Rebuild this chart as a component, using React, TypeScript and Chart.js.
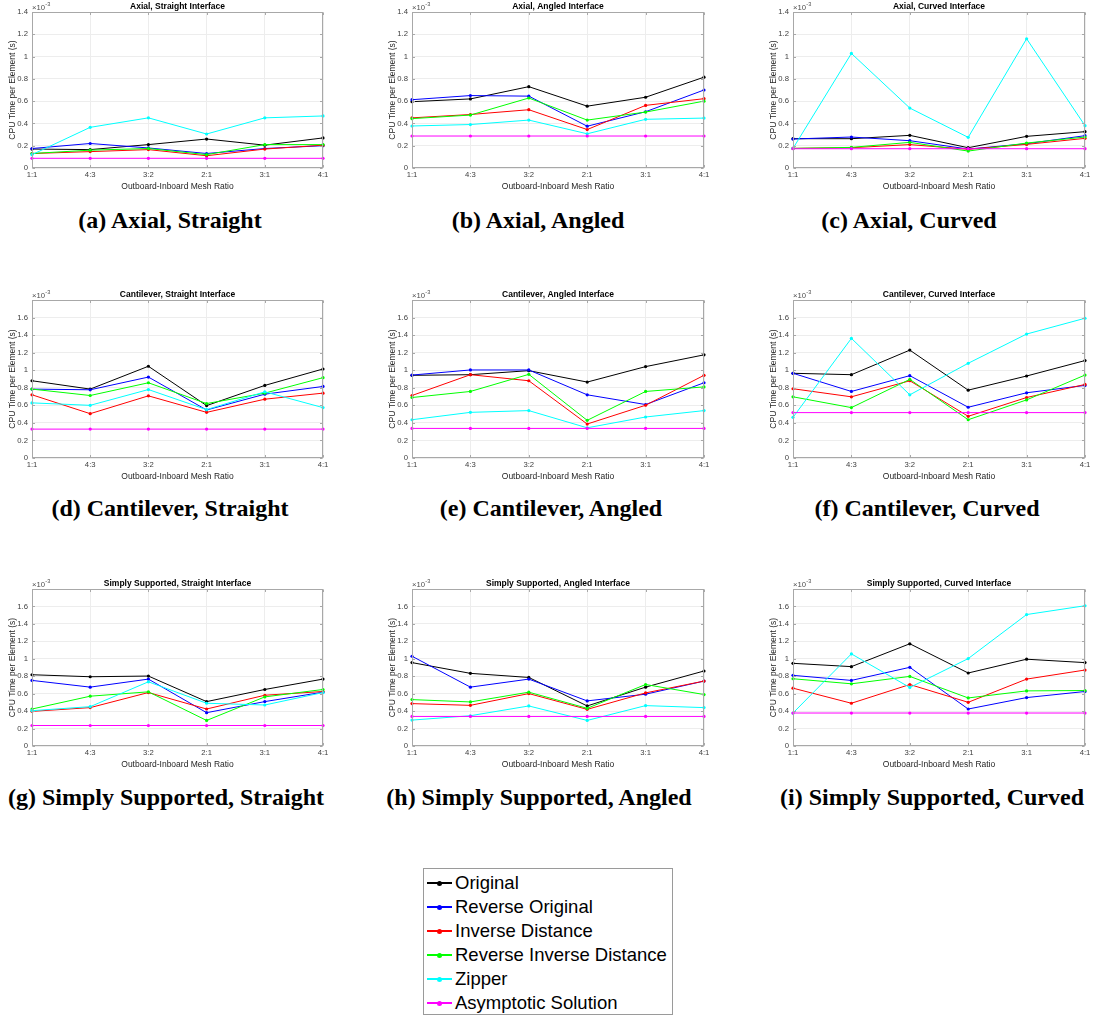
import React, { useEffect, useRef } from 'react';
import { Chart, registerables } from 'chart.js';
Chart.register(...registerables);

const FONT = '"Liberation Sans", Arial, Helvetica, sans-serif';
const SERIF = '"Liberation Serif", "Times New Roman", Times, serif';

const ratioLabels = ['1:1', '4:3', '3:2', '2:1', '3:1', '4:1'];
const methodNames = ['Original', 'Reverse Original', 'Inverse Distance', 'Reverse Inverse Distance', 'Zipper', 'Asymptotic Solution'];
const methodColors = ['#000000', '#0000ff', '#ff0000', '#00ff00', '#00ffff', '#ff00ff'];

// values in units of 1e-3 s; rows follow methodNames order
const axialStraight = [
  [0.17, 0.165, 0.21, 0.26, 0.205, 0.27],
  [0.175, 0.22, 0.18, 0.13, 0.175, 0.2],
  [0.13, 0.147, 0.165, 0.11, 0.17, 0.205],
  [0.13, 0.16, 0.175, 0.12, 0.21, 0.21],
  [0.12, 0.365, 0.45, 0.305, 0.45, 0.467],
  [0.087, 0.087, 0.087, 0.087, 0.087, 0.087],
];
const axialAngled = [
  [0.595, 0.62, 0.73, 0.555, 0.635, 0.815],
  [0.613, 0.65, 0.645, 0.375, 0.505, 0.7],
  [0.45, 0.48, 0.523, 0.345, 0.562, 0.622],
  [0.443, 0.475, 0.628, 0.43, 0.502, 0.6],
  [0.377, 0.39, 0.43, 0.307, 0.437, 0.448],
  [0.287, 0.287, 0.287, 0.287, 0.287, 0.287],
];
const axialCurved = [
  [0.263, 0.263, 0.293, 0.182, 0.284, 0.326],
  [0.26, 0.278, 0.245, 0.17, 0.218, 0.29],
  [0.176, 0.182, 0.21, 0.168, 0.212, 0.266],
  [0.176, 0.185, 0.23, 0.152, 0.224, 0.278],
  [0.176, 1.028, 0.538, 0.275, 1.16, 0.38],
  [0.173, 0.173, 0.173, 0.173, 0.173, 0.173],
];
const cantileverStraight = [
  [0.88, 0.785, 1.045, 0.597, 0.827, 1.014],
  [0.785, 0.777, 0.922, 0.547, 0.727, 0.815],
  [0.72, 0.505, 0.708, 0.52, 0.67, 0.739],
  [0.785, 0.712, 0.857, 0.62, 0.739, 0.915],
  [0.628, 0.6, 0.78, 0.551, 0.754, 0.574],
  [0.329, 0.329, 0.329, 0.329, 0.329, 0.329],
];
const cantileverAngled = [
  [0.942, 0.949, 0.995, 0.865, 1.041, 1.175],
  [0.945, 1.003, 1.003, 0.72, 0.609, 0.857],
  [0.712, 0.949, 0.88, 0.387, 0.601, 0.942],
  [0.689, 0.758, 0.953, 0.429, 0.758, 0.81],
  [0.436, 0.52, 0.54, 0.344, 0.467, 0.54],
  [0.337, 0.337, 0.337, 0.337, 0.337, 0.337],
];
const cantileverCurved = [
  [0.965, 0.949, 1.229, 0.773, 0.934, 1.11],
  [0.965, 0.758, 0.938, 0.578, 0.743, 0.827],
  [0.789, 0.697, 0.88, 0.475, 0.689, 0.838],
  [0.697, 0.574, 0.896, 0.436, 0.662, 0.945],
  [0.463, 1.363, 0.72, 1.079, 1.412, 1.592],
  [0.517, 0.517, 0.517, 0.517, 0.517, 0.517],
];
const simplyStraight = [
  [0.817, 0.794, 0.802, 0.509, 0.648, 0.767],
  [0.752, 0.675, 0.767, 0.382, 0.509, 0.617],
  [0.397, 0.44, 0.613, 0.424, 0.582, 0.625],
  [0.424, 0.571, 0.621, 0.293, 0.563, 0.648],
  [0.405, 0.451, 0.736, 0.49, 0.47, 0.613],
  [0.235, 0.235, 0.235, 0.235, 0.235, 0.235],
];
const simplyAngled = [
  [0.956, 0.833, 0.786, 0.459, 0.675, 0.86],
  [1.029, 0.675, 0.767, 0.517, 0.594, 0.744],
  [0.486, 0.466, 0.601, 0.42, 0.609, 0.744],
  [0.532, 0.505, 0.617, 0.432, 0.705, 0.59],
  [0.297, 0.347, 0.459, 0.293, 0.463, 0.44],
  [0.339, 0.339, 0.339, 0.339, 0.339, 0.339],
];
const simplyCurved = [
  [0.948, 0.91, 1.172, 0.837, 0.995, 0.956],
  [0.81, 0.752, 0.902, 0.424, 0.555, 0.625],
  [0.663, 0.49, 0.705, 0.501, 0.767, 0.871],
  [0.771, 0.713, 0.798, 0.551, 0.632, 0.636],
  [0.378, 1.056, 0.671, 1.002, 1.507, 1.608],
  [0.378, 0.378, 0.378, 0.378, 0.378, 0.378],
];

const panelTitles = [
  ['Axial, Straight Interface', 'Axial, Angled Interface', 'Axial, Curved Interface'],
  ['Cantilever, Straight Interface', 'Cantilever, Angled Interface', 'Cantilever, Curved Interface'],
  ['Simply Supported, Straight Interface', 'Simply Supported, Angled Interface', 'Simply Supported, Curved Interface'],
];
const panelCaptions = [
  ['(a) Axial, Straight', '(b) Axial, Angled', '(c) Axial, Curved'],
  ['(d) Cantilever, Straight', '(e) Cantilever, Angled', '(f) Cantilever, Curved'],
  ['(g) Simply Supported, Straight', '(h) Simply Supported, Angled', '(i) Simply Supported, Curved'],
];
const panelData = [
  [axialStraight, axialAngled, axialCurved],
  [cantileverStraight, cantileverAngled, cantileverCurved],
  [simplyStraight, simplyAngled, simplyCurved],
];
const rowYMax = [1.4, 1.8, 1.8];

// layout
const colLeft = [32, 412, 793];
const colWidth = [291, 292, 292];
const rowTop = [12, 300, 589];
const rowHeight = [156, 158, 157];
const captionY = [220, 508, 797];
const captionX = [
  [170, 538, 909],
  [170, 551, 927],
  [166, 539, 932],
];

const PAD_L = 4, YAX_W = 26, PAD_T = 16, PAD_R = 14, XAX_H = 24, PAD_B = 2;

function Panel(props: { title: string; data: number[][]; yMax: number; left: number; top: number; w: number; h: number }) {
  const ref = useRef<HTMLCanvasElement>(null);
  const cw = props.w + PAD_L + YAX_W + PAD_R;
  const ch = props.h + PAD_T + XAX_H + PAD_B;
  useEffect(() => {
    const title = props.title;
    const decor = {
      id: 'matlabDecor',
      afterDraw(chart: any) {
        const { ctx, chartArea: a } = chart;
        const L = Math.round(a.left) + 0.5, T = Math.round(a.top) + 0.5;
        const R = Math.round(a.right) - 0.5, B = Math.round(a.bottom) - 0.5;
        ctx.save();
        ctx.strokeStyle = '#a8a8a8';
        ctx.lineWidth = 1;
        ctx.strokeRect(L, T, R - L, B - T);
        // inside tick marks
        ctx.beginPath();
        const ys = chart.scales.y;
        ys.ticks.forEach((t: any) => {
          const py = Math.round(ys.getPixelForValue(t.value)) + 0.5;
          ctx.moveTo(L, py); ctx.lineTo(L + 2.5, py);
          ctx.moveTo(R, py); ctx.lineTo(R - 2.5, py);
        });
        const xs = chart.scales.x;
        xs.ticks.forEach((_t: any, i: number) => {
          const px = Math.round(xs.getPixelForTick(i)) + 0.5;
          ctx.moveTo(px, B); ctx.lineTo(px, B - 2.5);
          ctx.moveTo(px, T); ctx.lineTo(px, T + 2.5);
        });
        ctx.stroke();
        ctx.fillStyle = '#000';
        ctx.font = `bold 8.5px ${FONT}`;
        ctx.textAlign = 'center';
        ctx.textBaseline = 'middle';
        ctx.fillText(title, (a.left + a.right) / 2, a.top - 5.5);
        ctx.fillStyle = '#4d4d4d';
        ctx.font = `7.7px ${FONT}`;
        ctx.textAlign = 'left';
        ctx.textBaseline = 'alphabetic';
        ctx.fillText('\u00d710', a.left, a.top - 2);
        const w1 = ctx.measureText('\u00d710').width;
        ctx.font = `5.6px ${FONT}`;
        ctx.fillText('-3', a.left + w1 + 0.3, a.top - 6.5);
        ctx.restore();
      },
    };
    const chart = new Chart(ref.current as HTMLCanvasElement, {
      type: 'line',
      data: {
        labels: ratioLabels,
        datasets: props.data.map((vals, i) => ({
          label: methodNames[i],
          data: vals,
          borderColor: methodColors[i],
          backgroundColor: methodColors[i],
          pointBackgroundColor: methodColors[i],
          pointBorderWidth: 0,
          pointRadius: 1.6,
          borderWidth: 1,
          tension: 0,
          fill: false,
          order: -i,
        })),
      },
      options: {
        responsive: false,
        animation: false,
        devicePixelRatio: 1,
        layout: { padding: { left: PAD_L, top: PAD_T, right: PAD_R, bottom: PAD_B } },
        plugins: { legend: { display: false }, tooltip: { enabled: false }, title: { display: false } },
        scales: {
          x: {
            type: 'category',
            offset: false,
            grid: { color: '#ededed', drawTicks: false },
            border: { display: false },
            ticks: { autoSkip: false, maxRotation: 0, minRotation: 0, padding: 2, color: '#404040', font: { family: FONT, size: 7.7 } },
            title: { display: true, text: 'Outboard-Inboard Mesh Ratio', color: '#262626', font: { family: FONT, size: 8.5 }, padding: 0 },
            afterFit: (s: any) => { s.height = XAX_H; },
          },
          y: {
            type: 'linear',
            min: 0,
            max: props.yMax,
            grid: { color: '#ededed', drawTicks: false },
            border: { display: false },
            ticks: {
              stepSize: 0.2,
              autoSkip: false,
              padding: 4,
              color: '#404040',
              font: { family: FONT, size: 7.7 },
              callback: (v: any) => (v > 1.7 ? '' : String(Math.round(Number(v) * 10) / 10)),
            },
            title: { display: true, text: 'CPU Time per Element (s)', color: '#262626', font: { family: FONT, size: 8.5 }, padding: { top: 2, bottom: 0 } },
            afterFit: (s: any) => { s.width = YAX_W; },
          },
        },
      },
      plugins: [decor],
    } as any);
    return () => chart.destroy();
  }, []);
  return (
    <canvas
      ref={ref}
      width={cw}
      height={ch}
      style={{ position: 'absolute', left: props.left - PAD_L - YAX_W, top: props.top - PAD_T, width: cw, height: ch }}
    />
  );
}

function Legend() {
  const rowY = [883, 907, 931, 955, 979, 1003];
  return (
    <div>
      <div style={{ position: 'absolute', left: 423, top: 868, width: 248, height: 145, border: '1px solid #9a9a9a', background: '#fff' }} />
      {methodNames.map((name, i) => (
        <div key={name}>
          <div style={{ position: 'absolute', left: 427, top: rowY[i] - 0.75, width: 25, height: 1.5, background: methodColors[i] }} />
          <div style={{ position: 'absolute', left: 437, top: rowY[i] - 2.5, width: 5, height: 5, borderRadius: '50%', background: methodColors[i] }} />
          <div style={{ position: 'absolute', left: 455, top: rowY[i] - 11, height: 22, lineHeight: '22px', fontFamily: FONT, fontSize: 18.5, color: '#000', whiteSpace: 'nowrap' }}>{name}</div>
        </div>
      ))}
    </div>
  );
}

export default function App() {
  const panels: any[] = [];
  for (let r = 0; r < 3; r++) {
    for (let c = 0; c < 3; c++) {
      panels.push(
        <Panel
          key={`p${r}${c}`}
          title={panelTitles[r][c]}
          data={panelData[r][c]}
          yMax={rowYMax[r]}
          left={colLeft[c]}
          top={rowTop[r]}
          w={colWidth[c]}
          h={rowHeight[r]}
        />
      );
      panels.push(
        <div
          key={`c${r}${c}`}
          style={{
            position: 'absolute',
            left: captionX[r][c],
            top: captionY[r] - 13,
            transform: 'translateX(-50%)',
            fontFamily: SERIF,
            fontWeight: 'bold',
            fontSize: 24,
            lineHeight: '26px',
            whiteSpace: 'nowrap',
            color: '#000',
          }}
        >
          {panelCaptions[r][c]}
        </div>
      );
    }
  }
  return (
    <div style={{ position: 'absolute', left: 0, top: 0, width: 1094, height: 1016, background: '#fff', overflow: 'hidden' }}>
      {panels}
      <Legend />
    </div>
  );
}
